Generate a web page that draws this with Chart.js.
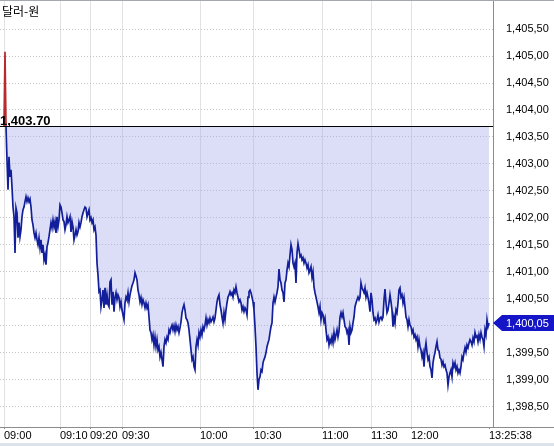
<!DOCTYPE html>
<html>
<head>
<meta charset="utf-8">
<script src="https://cdn.jsdelivr.net/npm/chart.js@4"></script>
<style>
body{margin:0;background:#fff;}
#wrap{width:554px;height:446px;position:relative;}
</style>
</head>
<body>
<div id="wrap"><canvas id="chart"></canvas></div>
<script>
// 달러-원 intraday, one value per trade tick
const title = '달러-원';
const prevClose = 1403.70;   // reference (black) line
const lastPrice = 1400.05;   // blue tag on the right axis

const timeLabels = ['09:00', '09:10', '09:20', '09:30', '10:00', '10:30', '11:00', '11:30', '12:00'];
const lastTime = '13:25:38';

// price ticks, split by the time label where each block starts
const seg0900 = [1403.70, 1405.08, 1403.70, 1403.07, 1402.52, 1403.13, 1402.76, 1402.89, 1402.57, 1402.20,
	1402.02, 1401.35, 1402.18, 1402.09, 1401.63, 1401.91, 1401.65, 1401.78, 1402.02, 1402.15,
	1402.20, 1402.30, 1402.39, 1402.30, 1402.37, 1402.30, 1402.35, 1402.20, 1401.96, 1401.87,
	1401.72, 1401.63, 1401.72, 1401.59, 1401.50, 1401.63, 1401.44, 1401.59, 1401.35, 1401.50,
	1401.22, 1401.31, 1401.13, 1401.46, 1401.54, 1401.65, 1401.78, 1401.91, 1401.81, 1401.96,
	1401.83, 1401.93, 1401.72, 1402.02, 1401.83, 1401.96];
const seg0910 = [1402.24, 1402.20, 1402.09, 1401.96, 1401.93, 1401.78, 1401.87, 1402.02, 1401.91, 1401.96,
	1402.02, 1401.74, 1401.93, 1401.83, 1401.59, 1401.68, 1401.78, 1401.68, 1401.74, 1401.91,
	1401.83, 1401.91, 1402.02, 1402.09, 1402.15, 1402.20, 1402.18, 1402.02, 1402.09, 1402.15];
const seg0920 = [1401.96, 1402.00, 1401.91, 1401.96, 1401.78, 1401.83, 1401.68, 1401.16, 1400.94, 1400.63,
	1400.66, 1400.35, 1400.48, 1400.66, 1400.33, 1400.70, 1400.39, 1400.57, 1400.39, 1400.35,
	1400.81, 1400.85, 1400.39, 1400.63, 1400.26, 1400.52, 1400.61, 1400.48, 1400.57, 1400.52,
	1400.35, 1400.44];
const seg0930 = [1400.29, 1400.20, 1400.11, 1400.42, 1400.53, 1400.48, 1400.61, 1400.44, 1400.57, 1400.66,
	1400.74, 1400.79, 1400.85, 1400.98, 1400.92, 1400.85, 1400.66, 1400.57, 1400.44, 1400.52,
	1400.39, 1400.48, 1400.42, 1400.33, 1400.42, 1400.33, 1400.39, 1400.16, 1399.92, 1399.87,
	1399.74, 1399.83, 1399.64, 1399.79, 1399.61, 1399.74, 1399.55, 1399.61, 1399.42, 1399.50,
	1399.37, 1399.24, 1399.61, 1399.74, 1399.68, 1399.79, 1399.74, 1399.92, 1399.87, 1399.96,
	1400.01, 1399.92, 1400.00, 1399.89, 1400.01, 1399.92, 1399.98, 1399.87, 1399.96, 1400.07,
	1400.24, 1400.33, 1400.39, 1400.29, 1400.14, 1400.11, 1400.05, 1399.92, 1399.74, 1399.55,
	1399.37, 1399.42, 1399.24, 1399.18, 1399.61, 1399.74, 1399.64, 1399.87];
const seg1000 = [1399.79, 1399.92, 1399.83, 1399.98, 1399.92, 1400.01, 1400.14, 1400.01, 1400.11, 1400.05,
	1400.14, 1400.07, 1400.11, 1400.16, 1400.07, 1400.14, 1400.29, 1400.44, 1400.52, 1400.57,
	1400.39, 1400.29, 1400.16, 1400.05, 1400.24, 1400.11, 1400.29, 1400.42, 1400.53, 1400.57,
	1400.63, 1400.57, 1400.61, 1400.53, 1400.66, 1400.61, 1400.72, 1400.61, 1400.53, 1400.44,
	1400.48, 1400.42, 1400.29, 1400.35, 1400.26, 1400.33, 1400.29, 1400.20, 1400.53, 1400.63,
	1400.66, 1400.61, 1400.53, 1400.44];
const seg1030 = [1400.29, 1399.98, 1399.61, 1399.12, 1398.81, 1399.00, 1399.05, 1399.18, 1399.15, 1399.31,
	1399.37, 1399.42, 1399.50, 1399.61, 1399.68, 1399.74, 1399.87, 1399.98, 1400.05, 1400.42,
	1400.53, 1400.44, 1400.53, 1400.61, 1400.72, 1401.05, 1400.85, 1400.79, 1400.66, 1400.61,
	1400.44, 1400.79, 1400.85, 1401.03, 1401.16, 1401.09, 1401.31, 1401.50, 1401.41, 1401.16,
	1401.09, 1401.16, 1400.79, 1401.35, 1401.52, 1401.41, 1401.28, 1401.31, 1401.22, 1401.26,
	1401.16, 1401.22, 1401.16, 1401.07, 1401.13, 1400.98, 1401.03, 1401.09, 1400.90, 1401.00,
	1400.72, 1400.61, 1400.53, 1400.44, 1400.35, 1400.24, 1400.35, 1400.11];
const seg1100 = [1400.24, 1400.20, 1400.07, 1400.14, 1399.92, 1399.74, 1399.79, 1399.64, 1399.74, 1399.68,
	1399.79, 1399.68, 1399.87, 1399.74, 1399.83, 1399.92, 1399.79, 1399.89, 1400.16, 1400.24,
	1400.16, 1400.24, 1400.11, 1399.98, 1399.96, 1399.87, 1399.92, 1399.64, 1399.98, 1399.87,
	1399.92, 1400.05, 1400.16, 1400.35, 1400.42, 1400.48, 1400.53, 1400.48, 1400.53, 1400.79,
	1400.70, 1400.66, 1400.61, 1400.70, 1400.53, 1400.61, 1400.52, 1400.42, 1400.26];
const seg1130 = [1400.61, 1400.48, 1400.24, 1400.11, 1400.14, 1400.05, 1400.11, 1400.20, 1400.07, 1400.14,
	1400.16, 1400.11, 1400.16, 1400.48, 1400.68, 1400.42, 1400.24, 1400.29, 1400.42, 1400.57,
	1400.44, 1400.29, 1399.98, 1400.16, 1400.05, 1400.29, 1400.24, 1400.42, 1400.66, 1400.70,
	1400.53, 1400.57, 1400.42, 1400.52, 1400.35, 1400.16, 1400.11, 1399.98, 1400.11, 1400.01];
const seg1200 = [1399.98, 1399.87, 1399.92, 1399.79, 1399.83, 1399.74, 1399.79, 1399.61, 1399.74, 1399.61,
	1399.55, 1399.42, 1399.50, 1399.24, 1399.55, 1399.68, 1399.50, 1399.37, 1399.42, 1399.24,
	1399.18, 1399.03, 1399.31, 1399.42, 1399.50, 1399.61, 1399.70, 1399.55, 1399.53, 1399.40,
	1399.38, 1399.27, 1399.33, 1399.24, 1399.27, 1399.18, 1399.12, 1398.90, 1399.05, 1399.12,
	1399.18, 1399.05, 1399.31, 1399.24, 1399.31, 1399.18, 1399.24, 1399.12, 1399.18, 1399.12,
	1399.24, 1399.42, 1399.37, 1399.50, 1399.59, 1399.51, 1399.64, 1399.59, 1399.68, 1399.74,
	1399.70, 1399.64, 1399.77, 1399.70, 1399.87, 1399.79, 1399.81, 1399.70, 1399.83, 1399.74,
	1399.87, 1399.79, 1399.74, 1399.61, 1399.92, 1399.83, 1400.11, 1399.98, 1400.05];

const segments = [seg0900, seg0910, seg0920, seg0930, seg1000, seg1030, seg1100, seg1130, seg1200];

// right axis tick values
const yTicks = [1398.5, 1399.0, 1399.5, 1400.0, 1400.5, 1401.0, 1401.5, 1402.0, 1402.5, 1403.0, 1403.5, 1404.0, 1404.5, 1405.0, 1405.5];

// build the point list and the index where each time label sits
let prices = [];
let tickIdx = [];
for (let i = 0; i < segments.length; i++) {
	tickIdx.push(prices.length);
	prices = prices.concat(segments[i]);
}
const lastIdx = prices.length - 1;
tickIdx.push(lastIdx);
const allLabels = timeLabels.concat([lastTime]);
const points = prices.map((p, i) => ({x: i, y: p}));

// 1403.7 -> "1,403,70" (axis uses comma as decimal mark)
function fmt(v, dec) {
	const s = v.toFixed(2).split('.');
	return s[0].slice(0, 1) + ',' + s[0].slice(1) + dec + s[1];
}

const lineBlue = '#121e9a';
const lineRed = '#b8282c';
const font11 = {family: '"Liberation Sans", Arial, sans-serif', size: 11};

const extras = {
	id: 'extras',
	afterDatasetsDraw(chart) {
		const ctx = chart.ctx, a = chart.chartArea, ys = chart.scales.y;
		const py = Math.round(ys.getPixelForValue(prevClose)) + 0.5;
		ctx.save();
		ctx.strokeStyle = '#000';
		ctx.lineWidth = 1;
		ctx.beginPath();
		ctx.moveTo(a.left, py);
		ctx.lineTo(a.right, py);
		ctx.stroke();
		ctx.fillStyle = '#000';
		ctx.textAlign = 'left';
		ctx.textBaseline = 'alphabetic';
		ctx.font = 'bold 13px "Liberation Sans", Arial, sans-serif';
		ctx.fillText(fmt(prevClose, '.'), 0, py - 2);
		ctx.font = '12px "Noto Sans CJK KR", sans-serif';
		ctx.textBaseline = 'middle';
		ctx.fillText(title, 2, 11);
		ctx.restore();
	},
	afterDraw(chart) {
		const ctx = chart.ctx, a = chart.chartArea, ys = chart.scales.y;
		const W = chart.width, H = chart.height;
		ctx.save();
		// frame lines
		ctx.fillStyle = '#a4a8ae';
		ctx.fillRect(0, 0, W, 1);
		ctx.fillStyle = '#8c8c8c';
		ctx.fillRect(a.right, a.bottom, W - a.right, 1);
		ctx.fillStyle = '#dde3ea';
		ctx.fillRect(0, H - 3, W, 3);
		// last price tag
		const ty = Math.round(ys.getPixelForValue(lastPrice));
		ctx.fillStyle = '#1515c8';
		ctx.beginPath();
		ctx.moveTo(a.right, ty);
		ctx.lineTo(a.right + 9, ty - 8);
		ctx.lineTo(W, ty - 8);
		ctx.lineTo(W, ty + 8);
		ctx.lineTo(a.right + 9, ty + 8);
		ctx.closePath();
		ctx.fill();
		ctx.fillStyle = '#fff';
		ctx.font = '11px "Liberation Sans", Arial, sans-serif';
		ctx.textAlign = 'left';
		ctx.textBaseline = 'middle';
		ctx.fillText(fmt(lastPrice, ','), a.right + 13, ty + 1);
		ctx.restore();
	}
};

const chart = new Chart(document.querySelector('#chart'), {
	type: 'line',
	data: {
		datasets: [{
			data: points,
			borderColor: lineBlue,
			borderWidth: 1.7,
			pointRadius: 0,
			tension: 0,
			fill: {value: prevClose},
			backgroundColor: 'rgba(168,172,238,0.4)',
			segment: {
				borderColor: c => (c.p0.parsed.y > prevClose || c.p1.parsed.y > prevClose) ? lineRed : lineBlue
			}
		}]
	},
	options: {
		responsive: true,
		maintainAspectRatio: false,
		animation: false,
		layout: {padding: 0},
		plugins: {legend: {display: false}, tooltip: {enabled: false}},
		scales: {
			x: {
				type: 'linear',
				min: -4,
				max: lastIdx + 4,
				afterBuildTicks: s => { s.ticks = tickIdx.map(v => ({value: v})); },
				afterFit: s => { s.height = 19; s.paddingLeft = 0; s.paddingRight = 0; },
				ticks: {
					autoSkip: false,
					maxRotation: 0,
					minRotation: 0,
					align: 'start',
					padding: 0,
					color: '#000',
					font: font11,
					callback: (v, i) => allLabels[i]
				},
				grid: {
					color: c => c.index === allLabels.length - 1 ? 'rgba(0,0,0,0)' : '#e2e2e2',
					tickColor: '#8c8c8c',
					tickLength: 2
				},
				border: {color: '#8c8c8c'}
			},
			y: {
				position: 'right',
				min: 1398.12,
				max: 1406.04,
				afterBuildTicks: s => { s.ticks = yTicks.map(v => ({value: v})); },
				afterFit: s => { s.width = 61; s.paddingTop = 0; s.paddingBottom = 0; },
				ticks: {
					padding: 13,
					color: '#000',
					font: font11,
					callback: v => v === lastPrice || Math.abs(v - lastPrice) < 0.1 ? '' : fmt(v, ',')
				},
				grid: {color: '#c4c4c4', drawTicks: false},
				border: {color: '#8c8c8c', dash: [1, 2]}
			}
		}
	},
	plugins: [extras]
});
</script>
</body>
</html>
